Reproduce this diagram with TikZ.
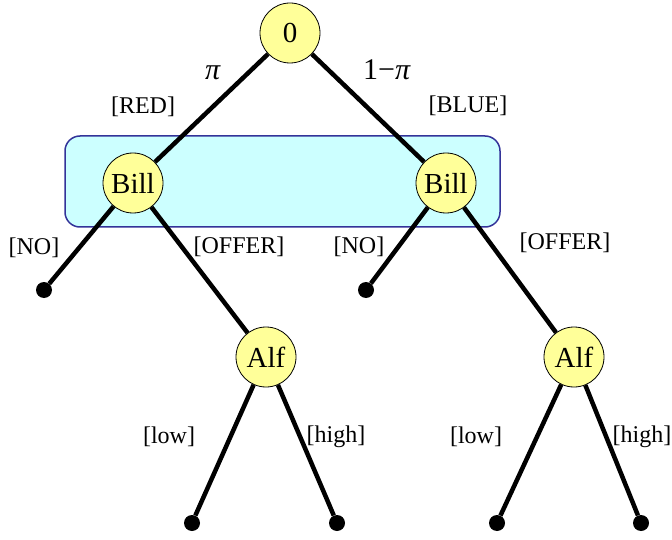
\documentclass[tikz,border=0pt]{standalone}
\usepackage{fontspec}
\setmainfont{Liberation Serif}
\definecolor{nodeyellow}{HTML}{FFFF99}
\definecolor{infofill}{HTML}{CCFFFF}
\definecolor{infodraw}{HTML}{333399}
\begin{document}
\begin{tikzpicture}[x=1pt,y=-1pt,
  player/.style={circle, draw=black, line width=0.8pt, fill=nodeyellow, minimum size=60pt, inner sep=0pt, font=\fontsize{29}{29}\selectfont},
  leaf/.style={circle, fill=black, minimum size=16pt, inner sep=0pt},
  edge/.style={line width=4.5pt, black},
  lab/.style={font=\fontsize{24}{24}\selectfont, inner sep=0pt},
  mlab/.style={font=\fontsize{30}{30}\selectfont, inner sep=0pt},
  infoset/.style={draw=infodraw, fill=infofill, line width=1.5pt, rounded corners=15pt}]
\useasboundingbox (0,0) rectangle (672,540);
\path[infoset] (65,136) rectangle (500,227);
\node[player] (n0) at (290,33) {0};
\node[player] (b1) at (133,183) {Bill};
\node[player] (b2) at (446,183) {Bill};
\node[player] (a1) at (266,357) {Alf};
\node[player] (a2) at (574,357) {Alf};
\node[leaf] (nl1) at (44,290) {};
\node[leaf] (nl2) at (366,290) {};
\node[leaf] (l1) at (192,523) {};
\node[leaf] (l2) at (337,523) {};
\node[leaf] (l3) at (497,523) {};
\node[leaf] (l4) at (641,523) {};
\draw[edge] (n0) -- (b1);
\draw[edge] (n0) -- (b2);
\draw[edge] (b1) -- (nl1);
\draw[edge] (b1) -- (a1);
\draw[edge] (b2) -- (nl2);
\draw[edge] (b2) -- (a2);
\draw[edge] (a1) -- (l1);
\draw[edge] (a1) -- (l2);
\draw[edge] (a2) -- (l3);
\draw[edge] (a2) -- (l4);
\node[mlab] (tpi) at (213,73) {\textit{π}};
\node[mlab] (tpi2) at (387,70) {1−\textit{π}};
\node[lab] (tred) at (143,107) {[RED]};
\node[lab] (tblue) at (468,106) {[BLUE]};
\node[lab] (tno1) at (34,248) {[NO]};
\node[lab] (toff1) at (239,247) {[OFFER]};
\node[lab] (tno2) at (359,247) {[NO]};
\node[lab] (toff2) at (565,243) {[OFFER]};
\node[lab] (tlow1) at (169,437) {[low]};
\node[lab] (thigh1) at (336,437) {[high]};
\node[lab] (tlow2) at (476,437) {[low]};
\node[lab] (thigh2) at (642,437) {[high]};
\end{tikzpicture}
\end{document}
